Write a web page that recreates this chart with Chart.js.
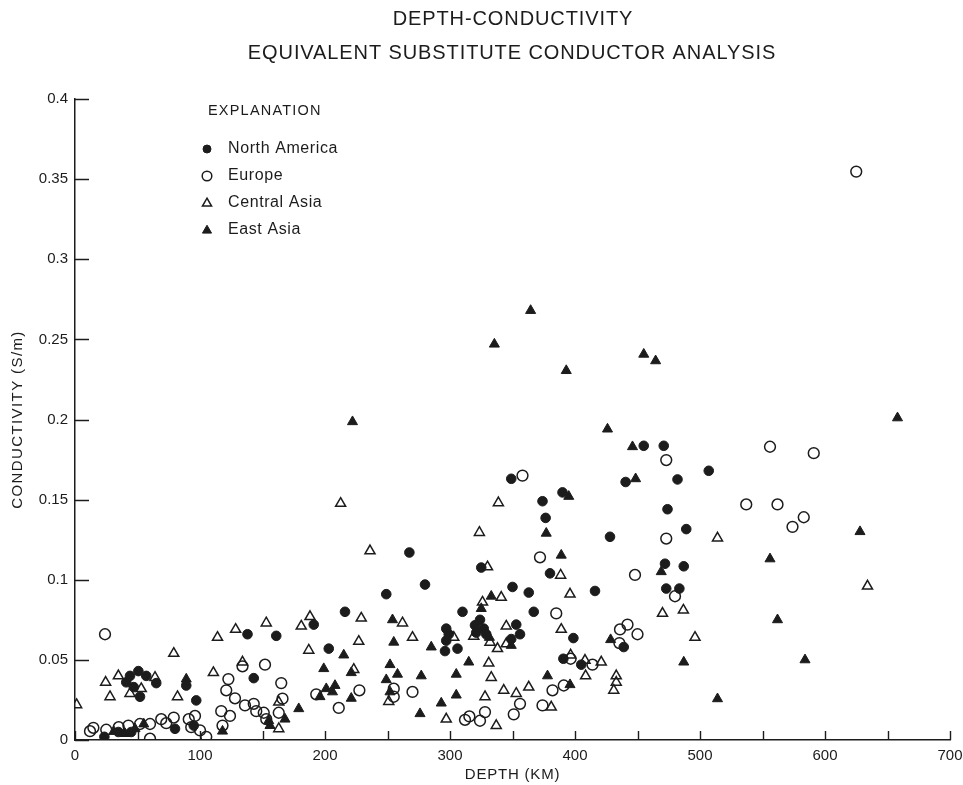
<!DOCTYPE html>
<html>
<head>
<meta charset="utf-8">
<script src="https://cdn.jsdelivr.net/npm/chart.js@4/dist/chart.umd.min.js"></script>
<style>
  html, body { margin: 0; padding: 0; background: #fff; }
  #wrap { width: 963px; height: 785px; position: relative; }
</style>
</head>
<body>
<div id="wrap"><canvas id="chart" width="963" height="785"></canvas></div>
<script>
var titleLines = ['DEPTH-CONDUCTIVITY', 'EQUIVALENT SUBSTITUTE CONDUCTOR ANALYSIS'];
var xTitle = 'DEPTH (KM)';
var yTitle = 'CONDUCTIVITY (S/m)';
var legendTitle = 'EXPLANATION';
var seriesNames = ['North America', 'Europe', 'Central Asia', 'East Asia'];

// depth in km, conductivity in S/m
var northAmericaDepth = [23.5, 34.7, 41, 44, 45, 47, 50.7, 52, 57, 65, 80, 89, 95, 97, 138, 143, 161, 191, 203, 216,
  249, 267.5, 280, 296, 297, 297, 299, 306, 310, 320, 321, 324, 325, 327, 329, 349, 349, 350, 353, 356,
  363, 367, 374, 376.5, 380, 390, 390.7, 398.7, 405, 416, 428, 439, 440.5, 455, 471, 472, 473, 474, 482, 483.5,
  487, 489, 507];
var northAmericaCond = [0.002, 0.005, 0.036, 0.040, 0.005, 0.033, 0.043, 0.027, 0.040, 0.0355, 0.007, 0.034, 0.009, 0.0247, 0.066, 0.0386, 0.065, 0.072, 0.057, 0.080,
  0.091, 0.117, 0.097, 0.0555, 0.0695, 0.062, 0.066, 0.057, 0.080, 0.0716, 0.067, 0.075, 0.1076, 0.0695, 0.066, 0.163, 0.063, 0.0955, 0.072, 0.066,
  0.092, 0.080, 0.149, 0.1386, 0.104, 0.1545, 0.0507, 0.0636, 0.047, 0.093, 0.1268, 0.058, 0.161, 0.1836, 0.1836, 0.110, 0.0945, 0.144, 0.1626, 0.0945,
  0.1084, 0.1316, 0.168];

var europeDepth = [12, 14.7, 24, 25, 35, 42.7, 52, 60, 60, 69, 73, 79, 91, 93, 96, 100, 105, 117, 118, 121,
  122.7, 124, 128, 134, 136, 143, 145, 151, 152, 153, 163, 165, 166, 193, 211, 227.5, 255, 255, 270, 312,
  315.5, 324, 328, 351, 356, 358, 372, 374, 382, 385, 391, 396.5, 414, 435.5, 436, 442, 448, 450, 473, 473,
  480, 537, 556, 562, 574, 583, 591, 625];
var europeCond = [0.0055, 0.0076, 0.066, 0.0064, 0.008, 0.009, 0.010, 0.010, 0.0008, 0.013, 0.0105, 0.014, 0.013, 0.008, 0.015, 0.006, 0.002, 0.018, 0.009, 0.031,
  0.038, 0.015, 0.026, 0.046, 0.0216, 0.0226, 0.018, 0.017, 0.047, 0.013, 0.017, 0.0355, 0.0258, 0.0285, 0.020, 0.031, 0.032, 0.027, 0.030, 0.0126,
  0.0147, 0.012, 0.0174, 0.016, 0.0226, 0.165, 0.114, 0.0216, 0.031, 0.079, 0.034, 0.0507, 0.047, 0.0605, 0.069, 0.072, 0.103, 0.066, 0.1747, 0.1257,
  0.0897, 0.147, 0.183, 0.147, 0.133, 0.139, 0.179, 0.3547];

var centralAsiaDepth = [1.3, 24.5, 28, 34.7, 44, 53, 64, 79, 82, 110.7, 114, 128.5, 134, 153, 163, 163, 181, 187, 188, 212.5,
  223, 227, 229, 236, 251, 262, 270, 297, 303, 319, 323.5, 326, 328, 330, 331, 332, 333, 337, 338, 338.7,
  341, 343, 345, 345, 353, 363, 381, 388.5, 389, 396, 396.5, 408, 408.5, 421, 431, 433, 433, 470, 486.7, 496,
  514, 634];
var centralAsiaCond = [0.022, 0.036, 0.027, 0.040, 0.029, 0.032, 0.039, 0.054, 0.027, 0.042, 0.064, 0.069, 0.0486, 0.073, 0.0236, 0.007, 0.071, 0.056, 0.077, 0.1476,
  0.044, 0.0615, 0.076, 0.118, 0.024, 0.073, 0.064, 0.013, 0.064, 0.0647, 0.1295, 0.086, 0.027, 0.108, 0.048, 0.061, 0.039, 0.009, 0.057, 0.148,
  0.089, 0.031, 0.071, 0.060, 0.029, 0.033, 0.0205, 0.1028, 0.069, 0.091, 0.053, 0.0497, 0.040, 0.0486, 0.031, 0.040, 0.036, 0.079, 0.081, 0.064,
  0.126, 0.096];

var eastAsiaDepth = [31, 40, 48, 55, 89, 118, 155, 156, 168, 179, 196, 199, 201, 206, 208, 215, 221, 221, 222, 249,
  252, 252, 254, 255, 258, 276, 277, 285, 293, 305, 305, 315, 325, 331.5, 333, 335.5, 349, 364.5, 377, 378,
  389, 393, 395, 396, 426, 428.5, 446, 448.5, 455, 464.5, 469, 487, 514, 556, 562, 584, 628, 658];
var eastAsiaCond = [0.0053, 0.004, 0.007, 0.010, 0.038, 0.0055, 0.012, 0.009, 0.013, 0.0195, 0.027, 0.0445, 0.032, 0.030, 0.034, 0.053, 0.042, 0.026, 0.1986, 0.0376,
  0.047, 0.030, 0.075, 0.061, 0.041, 0.0164, 0.040, 0.058, 0.023, 0.041, 0.028, 0.0486, 0.082, 0.064, 0.0897, 0.247, 0.059, 0.268, 0.129, 0.040,
  0.1153, 0.2305, 0.152, 0.0345, 0.194, 0.0626, 0.183, 0.163, 0.2407, 0.2366, 0.105, 0.0486, 0.0257, 0.113, 0.075, 0.050, 0.130, 0.201];

var INK = '#1c1c1c';
var FONT = '"Liberation Sans", Arial, sans-serif';

function toPoints(xs, ys) {
  var pts = [];
  for (var i = 0; i < xs.length; i++) pts.push({ x: xs[i], y: ys[i] });
  return pts;
}

var markers = [
  { style: 'circle', radius: 4.8, fill: INK, stroke: INK, width: 1 },
  { style: 'circle', radius: 5.4, fill: 'rgba(0,0,0,0)', stroke: INK, width: 1.5 },
  { style: 'triangle', radius: 5.8, fill: 'rgba(0,0,0,0)', stroke: INK, width: 1.5 },
  { style: 'triangle', radius: 5.8, fill: INK, stroke: INK, width: 1 }
];

var seriesData = [
  toPoints(northAmericaDepth, northAmericaCond),
  toPoints(europeDepth, europeCond),
  toPoints(centralAsiaDepth, centralAsiaCond),
  toPoints(eastAsiaDepth, eastAsiaCond)
];

var datasets = seriesData.map(function (pts, i) {
  var m = markers[i];
  return {
    label: seriesNames[i],
    data: pts,
    pointStyle: m.style,
    pointRadius: m.radius,
    pointHoverRadius: m.radius,
    pointBackgroundColor: m.fill,
    pointBorderColor: m.stroke,
    pointBorderWidth: m.width,
    showLine: false
  };
});

function drawMarker(ctx, style, r, x, y) {
  if (style === 'circle') {
    ctx.arc(x, y, r, 0, Math.PI * 2);
  } else {
    ctx.moveTo(x, y - r);
    ctx.lineTo(x + r * 0.95, y + r * 0.65);
    ctx.lineTo(x - r * 0.95, y + r * 0.65);
    ctx.closePath();
  }
}

function spacedText(ctx, text, x, y, spacing) {
  ctx.letterSpacing = spacing + 'px';
  ctx.fillText(text, x, y);
  ctx.letterSpacing = '0px';
}

// titles, axis titles, inward tick marks and the explanation box
var decorPlugin = {
  id: 'decor',
  afterDraw: function (chart) {
    var ctx = chart.ctx;
    var xs = chart.scales.x, ys = chart.scales.y;
    var area = chart.chartArea;
    ctx.save();
    ctx.fillStyle = INK;
    ctx.textAlign = 'center';
    ctx.textBaseline = 'middle';
    ctx.font = '20px ' + FONT;
    spacedText(ctx, titleLines[0], 513, 19, 0.9);
    spacedText(ctx, titleLines[1], 512, 53, 0.9);

    ctx.font = '15px ' + FONT;
    spacedText(ctx, xTitle, (area.left + area.right) / 2, 775, 0.8);
    ctx.save();
    ctx.translate(18, (area.top + area.bottom) / 2);
    ctx.rotate(-Math.PI / 2);
    spacedText(ctx, yTitle, 0, 0, 1.4);
    ctx.restore();

    ctx.strokeStyle = INK;
    ctx.lineWidth = 1.4;
    ctx.beginPath();
    for (var v = xs.min; v <= xs.max; v += 50) {
      var px = Math.round(xs.getPixelForValue(v)) + 0.5;
      ctx.moveTo(px, area.bottom);
      ctx.lineTo(px, area.bottom - 9);
    }
    for (var k = 0; k <= 8; k++) {
      var py = Math.round(ys.getPixelForValue(k * 0.05)) + 0.5;
      ctx.moveTo(area.left, py);
      ctx.lineTo(area.left + 14, py);
    }
    ctx.stroke();

    ctx.textAlign = 'left';
    ctx.font = '14.5px ' + FONT;
    spacedText(ctx, legendTitle, 208, 111, 1.2);
    var rows = [149, 176, 203, 230];
    ctx.font = '16px ' + FONT;
    for (var i = 0; i < seriesNames.length; i++) {
      var m = markers[i];
      ctx.fillStyle = m.fill;
      ctx.strokeStyle = m.stroke;
      ctx.lineWidth = m.width;
      ctx.beginPath();
      drawMarker(ctx, m.style, i === 0 ? 4 : 4.8, 207, rows[i]);
      if (m.fill !== 'rgba(0,0,0,0)') ctx.fill();
      ctx.stroke();
      ctx.fillStyle = INK;
      spacedText(ctx, seriesNames[i], 228, rows[i], 0.6);
    }
    ctx.restore();
  }
};

new Chart(document.getElementById('chart').getContext('2d'), {
  type: 'scatter',
  data: { datasets: datasets },
  plugins: [decorPlugin],
  options: {
    responsive: false,
    animation: false,
    devicePixelRatio: 1,
    layout: { padding: { top: 99, right: 0, bottom: 0, left: 0 } },
    plugins: {
      legend: { display: false },
      title: { display: false },
      tooltip: { enabled: false }
    },
    scales: {
      x: {
        type: 'linear',
        min: 0,
        max: 700,
        afterFit: function (s) { s.height = 45; s.paddingRight = 13; },
        grid: { display: false, drawTicks: false },
        border: { display: true, color: INK, width: 1.5 },
        ticks: {
          stepSize: 50,
          padding: 7,
          color: INK,
          font: { family: FONT, size: 15 },
          maxRotation: 0,
          autoSkip: false,
          callback: function (v) { return v % 100 === 0 ? String(v) : ''; }
        },
        title: { display: false }
      },
      y: {
        type: 'linear',
        min: 0,
        max: 0.4,
        afterFit: function (s) { s.width = 75; },
        grid: { display: false, drawTicks: false },
        border: { display: true, color: INK, width: 1.5 },
        ticks: {
          stepSize: 0.05,
          padding: 7,
          color: INK,
          font: { family: FONT, size: 15 },
          callback: function (v) { return String(parseFloat(Number(v).toFixed(2))); }
        },
        title: { display: false }
      }
    }
  }
});
</script>
</body>
</html>
